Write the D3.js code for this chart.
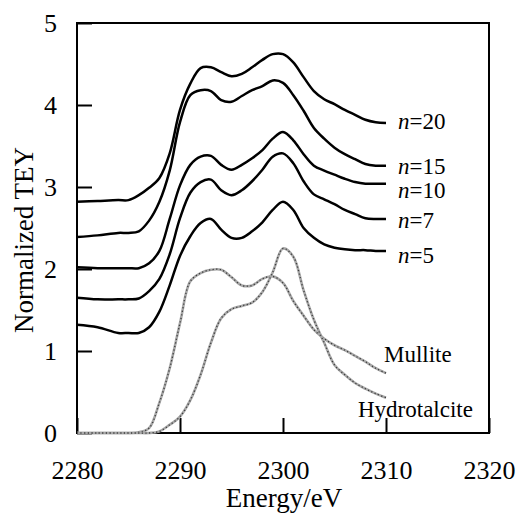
<!DOCTYPE html>
<html>
<head>
<meta charset="utf-8">
<script src="https://cdn.jsdelivr.net/npm/d3@7"></script>
<style>
  body { margin: 0; background: #fff; }
  svg { display: block; font-family: "Liberation Serif", "Times New Roman", serif; }
</style>
</head>
<body>
<div id="chart"></div>
<script>
// energy grid (eV) shared by every spectrum
var energy = [2280, 2282, 2284, 2285, 2286, 2287, 2288, 2289, 2290, 2291,
              2292, 2293, 2294, 2295, 2296, 2297, 2298, 2299, 2300, 2301,
              2302, 2303, 2304, 2305, 2306, 2307, 2308, 2309, 2310];

// normalized TEY (offset spectra)
var n20 = [2.82, 2.83, 2.84, 2.84, 2.90, 2.99, 3.11, 3.41, 3.94, 4.26,
           4.45, 4.46, 4.40, 4.35, 4.38, 4.46, 4.55, 4.62, 4.62, 4.52,
           4.34, 4.17, 4.07, 4.01, 3.94, 3.88, 3.82, 3.79, 3.78];
var n15 = [2.39, 2.41, 2.44, 2.44, 2.46, 2.59, 2.82, 3.20, 3.79, 4.12,
           4.18, 4.17, 4.06, 4.04, 4.11, 4.18, 4.23, 4.30, 4.27, 4.12,
           3.93, 3.72, 3.59, 3.48, 3.40, 3.34, 3.28, 3.26, 3.26];
var n10 = [2.02, 2.01, 2.01, 2.01, 2.01, 2.07, 2.22, 2.61, 3.02, 3.27,
           3.37, 3.38, 3.27, 3.21, 3.27, 3.35, 3.45, 3.59, 3.67, 3.57,
           3.40, 3.26, 3.20, 3.15, 3.10, 3.06, 3.04, 3.04, 3.04];
var n7  = [1.65, 1.63, 1.63, 1.63, 1.64, 1.73, 1.88, 2.18, 2.62, 2.93,
           3.06, 3.09, 2.96, 2.90, 2.96, 3.07, 3.21, 3.37, 3.41, 3.29,
           3.07, 2.91, 2.85, 2.79, 2.72, 2.67, 2.62, 2.61, 2.61];
var n5  = [1.32, 1.29, 1.22, 1.22, 1.22, 1.29, 1.48, 1.80, 2.16, 2.40,
           2.56, 2.61, 2.48, 2.38, 2.38, 2.46, 2.57, 2.72, 2.82, 2.72,
           2.50, 2.38, 2.30, 2.26, 2.24, 2.23, 2.23, 2.22, 2.22];

// reference compounds
var mullite = [0, 0, 0, 0, 0.01, 0.06, 0.37, 0.79, 1.34, 1.85,
               1.95, 1.99, 1.99, 1.90, 1.80, 1.80, 1.88, 1.91, 1.83, 1.61,
               1.43, 1.26, 1.15, 1.07, 1.01, 0.94, 0.87, 0.79, 0.73];
var hydrotalcite = [0, 0, 0, 0, 0, 0, 0.02, 0.10, 0.20, 0.40,
                    0.71, 1.10, 1.40, 1.51, 1.55, 1.59, 1.72, 1.96, 2.25, 2.15,
                    1.74, 1.38, 1.10, 0.83, 0.71, 0.61, 0.54, 0.48, 0.43];

var cycleNames = ["20", "15", "10", "7", "5"];
var xTicks = [2280, 2290, 2300, 2310, 2320];
var yTicks = [0, 1, 2, 3, 4, 5];

var drawChart = function(){
	//size vars
	var W = 520, H = 514,
		margin = {top: 23, right: 31, bottom: 81, left: 77},
		width = W - margin.left - margin.right,
		height = H - margin.top - margin.bottom;

	var svg = d3.select("#chart").append("svg")
		.attr("width", W)
		.attr("height", H);

	var x = d3.scaleLinear().domain([2280, 2320]).range([margin.left, margin.left + width]);
	var y = d3.scaleLinear().domain([0, 5]).range([margin.top + height, margin.top]);

	//x axis, ticks pointing in
	var xAxis = svg.append("g")
		.attr("transform", "translate(0," + (margin.top + height) + ")")
		.call(d3.axisBottom(x).tickValues(xTicks).tickSize(-15).tickPadding(28).tickFormat(d3.format("d")));

	//y axis
	var yAxis = svg.append("g")
		.attr("transform", "translate(" + margin.left + ",0)")
		.call(d3.axisLeft(y).tickValues(yTicks).tickSize(-15).tickPadding(20).tickFormat(d3.format("d")));

	[xAxis, yAxis].forEach(function(a){
		a.select(".domain").remove();
		a.selectAll("line").attr("stroke", "#000").attr("stroke-width", 2);
		a.selectAll("text")
			.attr("fill", "#000")
			.style("font-size", "26px")
			.style("font-family", "'Liberation Serif', 'Times New Roman', serif");
	});

	//frame
	svg.append("rect")
		.attr("x", margin.left)
		.attr("y", margin.top)
		.attr("width", width)
		.attr("height", height)
		.attr("fill", "none")
		.attr("stroke", "#000")
		.attr("stroke-width", 2);

	var line = d3.line()
		.x(function(d, i){ return x(energy[i]); })
		.y(function(d){ return y(d); })
		.curve(d3.curveCatmullRom.alpha(0.5));

	//reference compounds, dotted grey
	[mullite, hydrotalcite].forEach(function(s){
		svg.append("path")
			.attr("d", line(s))
			.attr("fill", "none")
			.attr("stroke", "#a8a8a8")
			.attr("stroke-width", 2.6);
		svg.append("path")
			.attr("d", line(s))
			.attr("fill", "none")
			.attr("stroke", "#3a3a3a")
			.attr("stroke-width", 1.3)
			.attr("stroke-dasharray", "1.2,2.4");
	});

	//cycle spectra
	var series = [n20, n15, n10, n7, n5];
	series.forEach(function(s){
		svg.append("path")
			.attr("d", line(s))
			.attr("fill", "none")
			.attr("stroke", "#000")
			.attr("stroke-width", 2.5)
			.attr("stroke-linejoin", "round");
	});

	//n= labels next to the line ends
	var labelShift = [-2, 0, 6, 1, 4];
	series.forEach(function(s, i){
		var t = svg.append("text")
			.attr("x", x(energy[energy.length - 1]) + 12)
			.attr("y", y(s[s.length - 1]) + labelShift[i])
			.attr("dy", "0.35em")
			.style("font-size", "23px");
		t.append("tspan").style("font-style", "italic").text("n");
		t.append("tspan").text("=" + cycleNames[i]);
	});

	var xEnd = x(energy[energy.length - 1]);
	svg.append("text")
		.attr("x", xEnd - 2)
		.attr("y", y(mullite[mullite.length - 1]) - 11)
		.style("font-size", "23px")
		.text("Mullite");
	svg.append("text")
		.attr("x", xEnd - 28)
		.attr("y", y(hydrotalcite[hydrotalcite.length - 1]) + 19)
		.style("font-size", "23px")
		.text("Hydrotalcite");

	//axis titles
	svg.append("text")
		.attr("x", 284)
		.attr("y", 507)
		.attr("text-anchor", "middle")
		.style("font-size", "27px")
		.text("Energy/eV");

	svg.append("text")
		.attr("transform", "translate(33,240) rotate(-90)")
		.attr("text-anchor", "middle")
		.style("font-size", "27px")
		.text("Normalized TEY");
};

drawChart();
</script>
</body>
</html>
